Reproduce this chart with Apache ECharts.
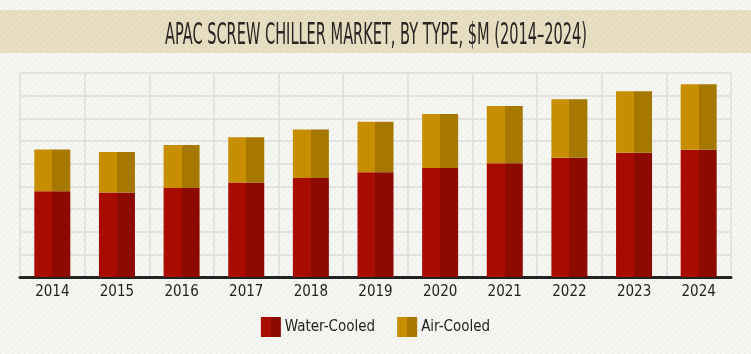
<!DOCTYPE html>
<html>
<head>
<meta charset="utf-8">
<script src="https://cdn.jsdelivr.net/npm/echarts@6/dist/echarts.min.js"></script>
<style>
html,body{margin:0;padding:0;background:#f6f6f2;}
#main{width:751px;height:354px;}
</style>
</head>
<body>
<div id="main"></div>
<script>
// 数据
var years = ['2014','2015','2016','2017','2018','2019','2020','2021','2022','2023','2024'];
var waterCooled = [378, 373, 393, 417, 437, 462, 481, 502, 526, 548, 561];
var airCooled   = [185, 179, 189, 199, 214, 223, 238, 252, 258, 271, 289];

var titleText = 'APAC SCREW CHILLER MARKET, BY TYPE, $M (2014\u20132024)';
var narrowFont = '"DejaVu Sans Condensed", "Liberation Sans Narrow", sans-serif';

// 斜线底纹
function stripes(base, line, size){
    var c = document.createElement('canvas');
    c.width = size; c.height = size;
    var ctx = c.getContext('2d');
    ctx.fillStyle = base;
    ctx.fillRect(0, 0, size, size);
    ctx.strokeStyle = line;
    ctx.lineWidth = 1;
    ctx.beginPath();
    for(var k = -1; k <= 1; k++){
        ctx.moveTo(k * size, size);
        ctx.lineTo(k * size + size, 0);
    }
    ctx.stroke();
    return c;
}

// 两色分半
function halfColor(light, dark){
    return new echarts.graphic.LinearGradient(0, 0, 1, 0, [
        {offset: 0, color: light},
        {offset: 0.5, color: light},
        {offset: 0.5, color: dark},
        {offset: 1, color: dark}
    ]);
}

// 标题压缩宽度
function titleScale(){
    var c = document.createElement('canvas').getContext('2d');
    c.font = '30px ' + narrowFont;
    var w = c.measureText(titleText).width;
    return w ? 422 / w : 1;
}

var myChart = echarts.init(document.getElementById('main'));
var option = {
    backgroundColor: {image: stripes('#f6f6f2', '#ebebe5', 6), repeat: 'repeat'},
    animation: false,
    grid: {left: 20, right: 20, top: 73, bottom: 77},
    xAxis: {
        type: 'category',
        data: years,
        axisLine: {show: true, lineStyle: {color: '#222', width: 3}},
        axisTick: {show: false},
        axisLabel: {color: '#1e1e1e', fontSize: 15, fontFamily: narrowFont, margin: 8},
        splitLine: {show: true, lineStyle: {color: '#dcdcdc', width: 1.5}}
    },
    yAxis: {
        type: 'value',
        min: 0, max: 900, interval: 100,
        axisLine: {show: false},
        axisTick: {show: false},
        axisLabel: {show: false},
        splitLine: {show: true, lineStyle: {color: '#dcdcdc', width: 1.5}}
    },
    legend: {
        left: 'center',
        top: 312,
        itemWidth: 20,
        itemHeight: 20,
        itemGap: 22,
        icon: 'rect',
        textStyle: {color: '#1e1e1e', fontSize: 15, fontFamily: narrowFont, padding: [0, 0, 0, -1]},
        data: ['Water-Cooled', 'Air-Cooled']
    },
    graphic: [
        {type: 'rect', left: 0, top: 10, z: -1, shape: {width: 751, height: 43},
         style: {fill: {image: stripes('#e5dbbf', '#ebe3cb', 6), repeat: 'repeat'}}},
        {type: 'text', x: 376, y: 36, scaleX: titleScale(), z: 10,
         style: {text: titleText, font: '30px ' + narrowFont, fill: '#2a2522',
                 align: 'center', verticalAlign: 'middle'}}
    ],
    series: [
        {name: 'Water-Cooled', type: 'bar', stack: 'total', barWidth: 36,
         itemStyle: {color: halfColor('#a80c00', '#8c0a00')}, data: waterCooled},
        {name: 'Air-Cooled', type: 'bar', stack: 'total', barWidth: 36,
         itemStyle: {color: halfColor('#c68e00', '#a67800')}, data: airCooled}
    ]
};
myChart.setOption(option);
</script>
</body>
</html>
